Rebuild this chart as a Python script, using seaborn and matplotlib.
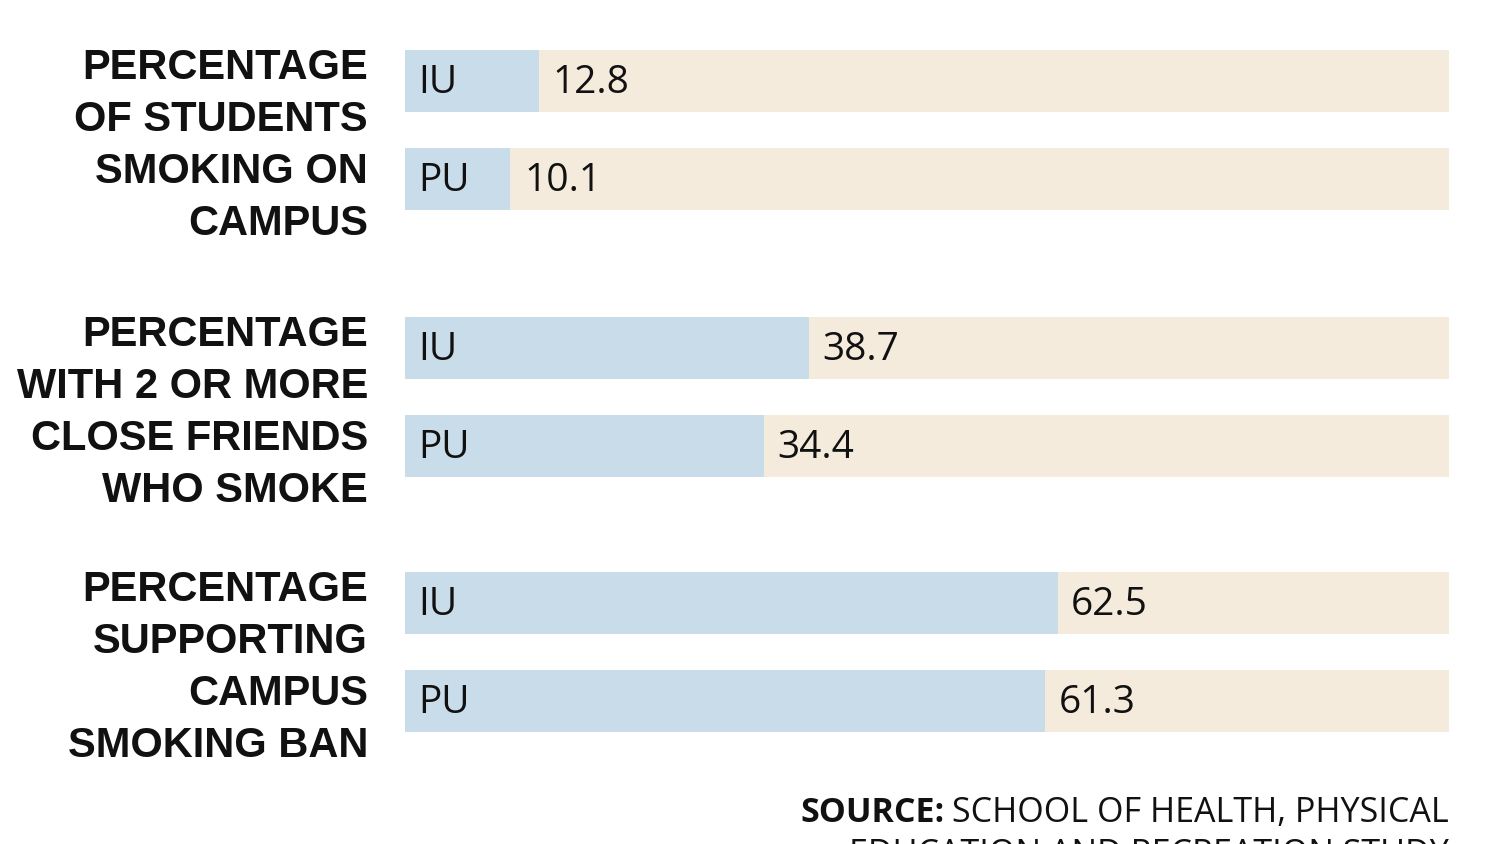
import matplotlib
matplotlib.use('Agg')
import matplotlib.pyplot as plt
import seaborn as sns
import pandas as pd

# data
questions = [
    ['PERCENTAGE', 'OF STUDENTS', 'SMOKING ON', 'CAMPUS'],
    ['PERCENTAGE', 'WITH 2 OR MORE', 'CLOSE FRIENDS', 'WHO SMOKE'],
    ['PERCENTAGE', 'SUPPORTING', 'CAMPUS', 'SMOKING BAN'],
]
schools = ['IU', 'PU']
iu_values = [12.8, 38.7, 62.5]
pu_values = [10.1, 34.4, 61.3]
scale_max = 100
source_bold = 'SOURCE:'
source_lines = ['SCHOOL OF HEALTH, PHYSICAL', 'EDUCATION AND RECREATION STUDY']

BLUE = '#c8dce9'
BEIGE = '#f5ebdc'

# layout in pixels (figure is 1500 x 844)
W, H = 1500, 844
group_top = [81, 348, 603]
row_step = 98
bar_h = 62
line_step = 52

rows = []
for g, q in enumerate(questions):
    for i, s in enumerate(schools):
        v = [iu_values, pu_values][i][g]
        rows.append({'school': s, 'value': v, 'track': scale_max,
                     'y': group_top[g] + i * row_step})
df = pd.DataFrame(rows)

sns.set_style('white')
plt.rcParams['font.family'] = ['Open Sans', 'DejaVu Sans']

fig = plt.figure(figsize=(W / 100, H / 100), dpi=100)
fig.patch.set_facecolor('white')
ax = fig.add_axes([405 / W, 0, (1449 - 405) / W, 1])

sns.barplot(data=df, x='track', y='y', orient='h', native_scale=True,
            color=BEIGE, saturation=1, width=bar_h / row_step,
            errorbar=None, linewidth=0, ax=ax)
sns.barplot(data=df, x='value', y='y', orient='h', native_scale=True,
            color=BLUE, saturation=1, width=bar_h / row_step,
            errorbar=None, linewidth=0, ax=ax)

ax.set_xlim(0, scale_max)
ax.set_ylim(H, 0)
ax.axis('off')

# bar labels
for _, r in df.iterrows():
    ax.text(1.3, r['y'] + 2, r['school'], ha='left', va='center',
            fontsize=28, color='#111111')
    ax.text(r['value'] + 1.3, r['y'] + 2, f"{r['value']:.1f}", ha='left',
            va='center', fontsize=28, color='#111111')

# question labels
label_font = ['Liberation Sans', 'DejaVu Sans']
for g, q in enumerate(questions):
    center = group_top[g] + row_step / 2 + 16
    for i, line in enumerate(q):
        yy = center + (i - 1.5) * line_step
        fig.text(368 / W, 1 - yy / H, line, ha='right', va='center',
                 fontsize=30, fontweight='bold', family=label_font,
                 color='#111111')

# source note (second line runs off the bottom edge, as in the original)
t = fig.text(1449 / W, 1 - 822 / H, source_lines[0], ha='right',
             va='baseline', fontsize=24.5, color='#111111')
fig.canvas.draw()
bb = t.get_window_extent()
fig.text((bb.x0 - 8) / W, 1 - 822 / H, source_bold, ha='right',
         va='baseline', fontsize=24.5, fontweight='bold', color='#111111')
fig.text(1449 / W, 1 - 864 / H, source_lines[1], ha='right',
         va='baseline', fontsize=24.5, color='#111111')

fig.savefig('out.png', dpi=100)
